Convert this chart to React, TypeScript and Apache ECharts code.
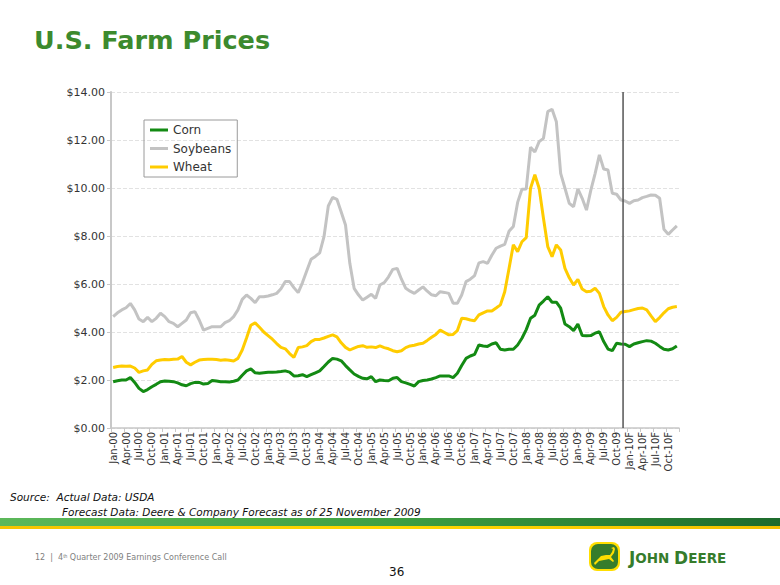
import React, { useEffect, useRef } from "react";
import * as echarts from "echarts";

const monthNames = ["Jan", "Feb", "Mar", "Apr", "May", "Jun", "Jul", "Aug", "Sep", "Oct", "Nov", "Dec"];
const yearCodes = ["00", "01", "02", "03", "04", "05", "06", "07", "08", "09", "10"];
const forecastYears = ["10"];
const categories = yearCodes.flatMap((y) =>
  monthNames.map((m) => `${m}-${y}${forecastYears.includes(y) ? "F" : ""}`)
);

const corn = [
  1.93, 1.97, 2.0, 2.0, 2.1, 1.9, 1.65, 1.52, 1.6, 1.72, 1.82, 1.93,
  1.96, 1.95, 1.93, 1.88, 1.8, 1.76, 1.85, 1.9, 1.9, 1.83, 1.85, 1.98,
  1.96, 1.93, 1.93, 1.92, 1.95, 2.0, 2.2, 2.38, 2.46, 2.3, 2.28, 2.3,
  2.32, 2.32, 2.33, 2.35, 2.38, 2.33, 2.17, 2.18, 2.22, 2.14, 2.22, 2.3,
  2.38, 2.56, 2.75, 2.9, 2.87, 2.8, 2.6, 2.42, 2.25, 2.15, 2.07, 2.05,
  2.14, 1.93, 2.0, 1.98, 1.97, 2.07, 2.1, 1.93, 1.88, 1.82, 1.75, 1.93,
  1.98, 2.0, 2.04, 2.1, 2.17, 2.17, 2.17, 2.1, 2.28, 2.6, 2.9, 3.0,
  3.07, 3.46, 3.42, 3.4, 3.5, 3.55, 3.28, 3.25, 3.28, 3.28, 3.46, 3.74,
  4.1, 4.57, 4.7, 5.12, 5.29, 5.47, 5.24, 5.24, 4.99, 4.33, 4.22, 4.06,
  4.33, 3.85, 3.84, 3.85, 3.95, 4.01, 3.6, 3.29, 3.22, 3.53, 3.5, 3.49,
  3.39, 3.5, 3.55, 3.6, 3.64, 3.62, 3.53, 3.4, 3.28, 3.25, 3.3, 3.42,
];

const soybeans = [
  4.64, 4.8, 4.92, 5.01, 5.19, 4.92, 4.54, 4.43, 4.61, 4.43, 4.57, 4.78,
  4.64, 4.43, 4.36, 4.22, 4.36, 4.5, 4.8, 4.85, 4.5, 4.08, 4.15, 4.22,
  4.22, 4.22, 4.39, 4.47, 4.64, 4.92, 5.36, 5.54, 5.4, 5.22, 5.47, 5.47,
  5.5, 5.55, 5.61, 5.8, 6.1, 6.1, 5.85, 5.64, 6.06, 6.55, 7.03, 7.15,
  7.3, 7.97, 9.25, 9.61, 9.53, 9.0, 8.46, 6.86, 5.82, 5.55, 5.33, 5.45,
  5.57, 5.4, 5.96, 6.06, 6.3, 6.61, 6.65, 6.2, 5.82, 5.7, 5.61, 5.75,
  5.88, 5.7, 5.55, 5.51, 5.68, 5.65, 5.61, 5.2, 5.2, 5.54, 6.1, 6.2,
  6.35, 6.88, 6.93, 6.86, 7.2, 7.49, 7.58, 7.65, 8.2, 8.4, 9.4, 9.95,
  9.96, 11.7, 11.5, 11.93, 12.07, 13.18, 13.28, 12.76, 10.61, 9.99, 9.36, 9.22,
  9.96, 9.57, 9.08, 9.9, 10.6, 11.38, 10.79, 10.75, 9.78, 9.74, 9.5, 9.46,
  9.36, 9.47, 9.5, 9.6, 9.65, 9.71, 9.7, 9.57, 8.28, 8.07, 8.25, 8.42,
];

const wheat = [
  2.52, 2.56, 2.58, 2.57, 2.58, 2.5, 2.32, 2.38, 2.42, 2.65, 2.8, 2.83,
  2.85, 2.84, 2.86, 2.87, 2.98, 2.74, 2.63, 2.74, 2.83, 2.85, 2.86, 2.86,
  2.85, 2.82, 2.84, 2.82, 2.79, 2.9, 3.25, 3.75, 4.28, 4.38, 4.2, 4.0,
  3.85, 3.7, 3.52, 3.36, 3.3, 3.1, 2.94, 3.35, 3.38, 3.43, 3.6, 3.69,
  3.69, 3.75, 3.82, 3.88, 3.8, 3.55, 3.36, 3.25, 3.33, 3.4, 3.43, 3.36,
  3.38, 3.35, 3.42, 3.35, 3.3, 3.22, 3.18, 3.22, 3.35, 3.42, 3.45, 3.5,
  3.53, 3.65, 3.78, 3.9, 4.08, 3.98, 3.88, 3.9, 4.06, 4.57, 4.55, 4.5,
  4.47, 4.71, 4.8, 4.88, 4.88, 5.0, 5.13, 5.68, 6.65, 7.63, 7.35, 7.76,
  7.93, 9.99, 10.55, 9.99, 8.74, 7.56, 7.14, 7.63, 7.42, 6.65, 6.26, 5.96,
  6.19, 5.79, 5.68, 5.7, 5.82, 5.61, 5.06, 4.71, 4.47, 4.61, 4.82, 4.85,
  4.88, 4.93, 4.98, 5.0, 4.92, 4.67, 4.43, 4.6, 4.8, 4.97, 5.03, 5.06,
];

const seriesNames = ["Corn", "Soybeans", "Wheat"];
const seriesColors = ["#138A13", "#C3C3C3", "#FFCC00"];
const lastActualMonth = "Nov-09";
const firstForecastMonth = "Dec-09";

const FONT = "DejaVu Sans, Verdana, sans-serif";

export default function App() {
  const ref = useRef<HTMLDivElement>(null);

  useEffect(() => {
    if (!ref.current) return;
    const chart = echarts.init(ref.current, null, { renderer: "svg" });
    const values = [corn, soybeans, wheat];

    chart.setOption({
      animation: false,
      backgroundColor: "#ffffff",
      textStyle: { fontFamily: FONT },
      grid: { left: 111, right: 101, top: 92, bottom: 157, containLabel: false },
      legend: {
        data: seriesNames,
        orient: "vertical",
        left: 144,
        top: 120,
        icon: "rect",
        itemWidth: 18,
        itemHeight: 3,
        itemGap: 4.5,
        padding: [3, 6],
        borderColor: "#9a9a9a",
        borderWidth: 1,
        textStyle: { fontFamily: FONT, fontSize: 12, color: "#333", lineHeight: 14 },
      },
      xAxis: {
        type: "category",
        data: categories,
        boundaryGap: true,
        axisLine: { show: true, lineStyle: { color: "#c8c8c8", width: 1.5 } },
        axisTick: { show: true, interval: 2, length: 4, lineStyle: { color: "#c8c8c8" } },
        axisLabel: {
          interval: 2,
          rotate: 90,
          fontSize: 10,
          color: "#333",
          margin: 4,
          fontFamily: FONT,
        },
        splitLine: { show: false },
      },
      yAxis: {
        type: "value",
        min: 0,
        max: 14,
        interval: 2,
        axisLine: { show: true, lineStyle: { color: "#c8c8c8", width: 2 } },
        axisTick: { show: true, length: 4, lineStyle: { color: "#c8c8c8" } },
        axisLabel: {
          formatter: (v: number) => "$" + v.toFixed(2),
          fontSize: 11,
          color: "#333",
          margin: 6,
          fontFamily: FONT,
        },
        splitLine: { show: true, lineStyle: { color: "#e2e2e2", type: "dashed", width: 1 } },
      },
      series: seriesNames.map((name, i) => ({
        name,
        type: "line",
        data: values[i],
        showSymbol: false,
        symbol: "none",
        smooth: false,
        color: seriesColors[i],
        lineStyle: { color: seriesColors[i], width: 3 },
        z: 3 - i,
      })),
    });

    const xA = chart.convertToPixel({ xAxisIndex: 0 }, lastActualMonth) as number;
    const xB = chart.convertToPixel({ xAxisIndex: 0 }, firstForecastMonth) as number;
    const yTop = chart.convertToPixel({ yAxisIndex: 0 }, 14) as number;
    const yBot = chart.convertToPixel({ yAxisIndex: 0 }, 0) as number;
    const xLine = (xA + xB) / 2;

    chart.setOption({
      graphic: [
        {
          type: "line",
          shape: { x1: xLine, y1: yTop, x2: xLine, y2: yBot },
          style: { stroke: "#555555", lineWidth: 1.5 },
          z: 10,
        },
        {
          type: "text",
          left: 34,
          top: 27,
          style: {
            text: "U.S. Farm Prices",
            fontFamily: FONT,
            fontWeight: "bold",
            fontSize: 25.5,
            fill: "#3C8A2E",
          },
        },
        {
          type: "text",
          left: 10,
          top: 491,
          style: {
            text: "Source:  Actual Data: USDA",
            fontFamily: FONT,
            fontStyle: "italic",
            fontSize: 10.5,
            fill: "#111",
          },
        },
        {
          type: "text",
          left: 62,
          top: 506,
          style: {
            text: "Forecast Data: Deere & Company Forecast as of 25 November 2009",
            fontFamily: FONT,
            fontStyle: "italic",
            fontSize: 10.5,
            fill: "#111",
          },
        },
        {
          type: "rect",
          shape: { x: 0, y: 518, width: 780, height: 8 },
          style: {
            fill: new echarts.graphic.LinearGradient(0, 0, 1, 0, [
              { offset: 0, color: "#5cb85a" },
              { offset: 0.5, color: "#3fa043" },
              { offset: 1, color: "#1d6b2c" },
            ]),
          },
        },
        {
          type: "rect",
          shape: { x: 0, y: 526, width: 780, height: 3 },
          style: {
            fill: new echarts.graphic.LinearGradient(0, 0, 1, 0, [
              { offset: 0, color: "#f6c400" },
              { offset: 0.5, color: "#ffd800" },
              { offset: 1, color: "#f2c000" },
            ]),
          },
        },
        {
          type: "text",
          left: 35,
          top: 553,
          style: {
            text: "12  |  4{sup|th} Quarter 2009 Earnings Conference Call",
            fontFamily: FONT,
            fontSize: 8,
            fill: "#808080",
            rich: {
              sup: { fontSize: 5, fill: "#808080", verticalAlign: "top", padding: [0, 0, 3, 0] },
            },
          },
        },
        {
          type: "text",
          left: 389,
          top: 566,
          style: { text: "36", fontFamily: FONT, fontSize: 12, fill: "#111" },
        },
        {
          type: "rect",
          shape: { x: 589, y: 542, width: 31, height: 29, r: 8 },
          style: { fill: "#FFDE00" },
        },
        {
          type: "rect",
          shape: { x: 591, y: 544, width: 27, height: 25, r: 7 },
          style: { fill: "#367C2B" },
        },
        {
          type: "polygon",
          shape: {
            points: [
              [594, 563], [598, 559], [601, 556], [606, 555], [610, 555],
              [612, 552], [613, 549], [611, 548], [614, 547], [615, 549],
              [614, 553], [611, 557], [614, 561], [613, 562], [609, 559],
              [604, 560], [599, 561], [595, 565],
            ],
          },
          style: { fill: "#FFDE00" },
        },
        {
          type: "text",
          left: 629,
          top: 549,
          style: {
            text: "{b|J}{s|OHN }{b|D}{s|EERE}",
            fontFamily: FONT,
            fill: "#367C2B",
            rich: {
              b: { fontSize: 17, fontWeight: "bold", fill: "#367C2B", fontFamily: FONT },
              s: { fontSize: 13.5, fontWeight: "bold", fill: "#367C2B", fontFamily: FONT },
            },
          },
        },
      ],
    });

    return () => chart.dispose();
  }, []);

  return (
    <div
      ref={ref}
      style={{ position: "absolute", left: 0, top: 0, width: 780, height: 585 }}
    />
  );
}
